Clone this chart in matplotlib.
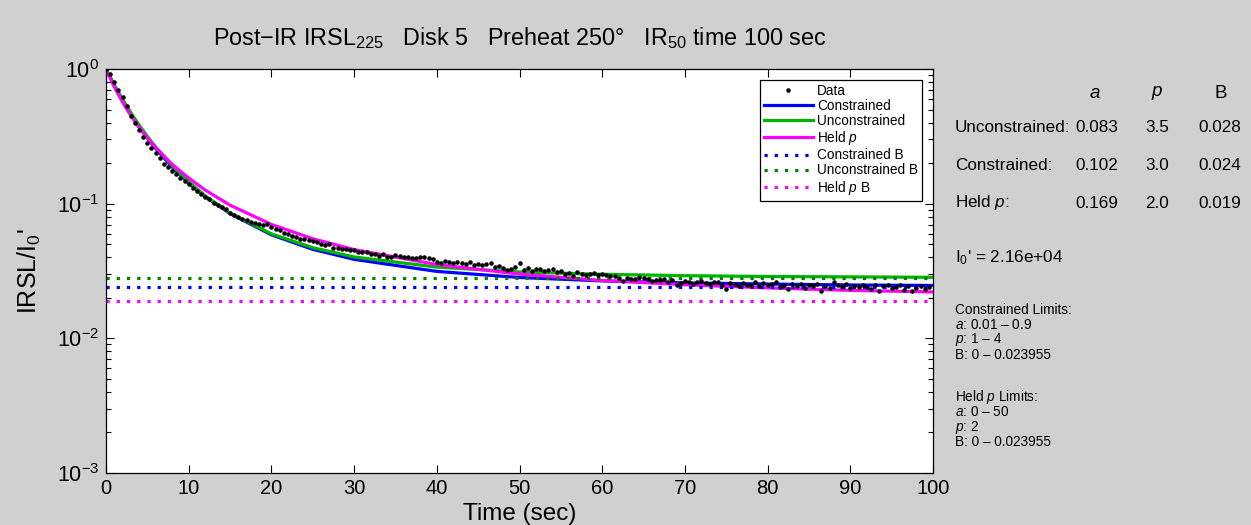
import matplotlib
matplotlib.use('Agg')
import matplotlib.pyplot as plt
import numpy as np

plt.rcParams['font.family'] = ['Liberation Sans', 'DejaVu Sans']
plt.rcParams['mathtext.fontset'] = 'custom'
plt.rcParams['mathtext.rm'] = 'Liberation Sans'
plt.rcParams['mathtext.it'] = 'Liberation Sans:italic'
plt.rcParams['mathtext.bf'] = 'Liberation Sans:bold'

# measured IRSL, normalised, one reading every 0.5 s
data_t = np.arange(0, 100, 0.5)
data_y = [
    1.0, 0.92, 0.80, 0.70, 0.615, 0.53, 0.45, 0.40, 0.355, 0.315,
    0.283, 0.258, 0.236, 0.217, 0.196, 0.188, 0.176, 0.166, 0.156, 0.147,
    0.139, 0.131, 0.124, 0.118, 0.112, 0.108, 0.102, 0.098, 0.094, 0.091,
    0.085, 0.082, 0.079, 0.077, 0.076, 0.073, 0.072, 0.071, 0.070, 0.071,
    0.067, 0.065, 0.064, 0.061, 0.060, 0.058, 0.057, 0.055, 0.055, 0.054,
    0.053, 0.052, 0.050, 0.049, 0.050, 0.047, 0.047, 0.046, 0.046, 0.045,
    0.045, 0.044, 0.044, 0.0436, 0.042, 0.042, 0.0412, 0.0424, 0.0405, 0.040,
    0.0415, 0.0412, 0.040, 0.0405, 0.0398, 0.0396, 0.0402, 0.0399, 0.0396, 0.0385,
    0.0372, 0.0362, 0.0378, 0.037, 0.0365, 0.0372, 0.0361, 0.0357, 0.0368, 0.0352,
    0.0355, 0.0349, 0.0358, 0.0362, 0.0341, 0.0347, 0.0335, 0.0319, 0.033, 0.0338,
    0.0362, 0.0322, 0.0331, 0.0318, 0.0326, 0.0328, 0.0315, 0.0322, 0.0328, 0.0311,
    0.0318, 0.0301, 0.0308, 0.0288, 0.031, 0.0302, 0.0296, 0.030, 0.0305, 0.0294,
    0.030, 0.0297, 0.0288, 0.0292, 0.0279, 0.0268, 0.0281, 0.0276, 0.0275, 0.0284,
    0.0279, 0.0275, 0.0266, 0.0272, 0.0270, 0.0278, 0.0262, 0.0269, 0.0247, 0.0258,
    0.0268, 0.0261, 0.0255, 0.0264, 0.0268, 0.0259, 0.0252, 0.0260, 0.0263, 0.0249,
    0.0233, 0.0256, 0.0254, 0.0246, 0.0259, 0.0247, 0.0251, 0.0262, 0.0244, 0.0257,
    0.0249, 0.0253, 0.026, 0.0241, 0.0247, 0.0233, 0.0252, 0.0244, 0.0254, 0.0238,
    0.0249, 0.0245, 0.0254, 0.0226, 0.0243, 0.0237, 0.026, 0.0248, 0.0241, 0.0254,
    0.0236, 0.0245, 0.0239, 0.0251, 0.0242, 0.0233, 0.0247, 0.0226, 0.0244, 0.0250,
    0.0236, 0.0241, 0.0247, 0.0229, 0.0243, 0.0226, 0.0238, 0.0245, 0.0232, 0.0239,
]

# fitted curves
fit_t = [0, 1, 2, 3, 4, 5, 6, 8, 10, 12, 15, 20, 25, 30, 40, 50, 60, 70, 80, 90, 100]
constrained_y = [1.0, 0.753, 0.583, 0.462, 0.374, 0.307, 0.257, 0.187, 0.142, 0.1127, 0.0843,
                 0.0587, 0.0458, 0.0386, 0.0314, 0.0283, 0.0267, 0.0258, 0.0253, 0.0249, 0.0247]
unconstrained_y = [1.0, 0.763, 0.596, 0.474, 0.384, 0.316, 0.264, 0.1915, 0.1452, 0.1145, 0.0853,
                   0.0597, 0.0471, 0.0402, 0.0338, 0.0311, 0.0299, 0.0292, 0.0288, 0.0286, 0.0284]
heldp_y = [1.0, 0.737, 0.567, 0.451, 0.368, 0.307, 0.261, 0.196, 0.155, 0.126, 0.0975,
           0.0701, 0.0549, 0.0456, 0.0353, 0.0300, 0.0269, 0.0250, 0.0237, 0.0227, 0.0221]

# fit parameters (table on the right)
fit_names = ['Unconstrained:', 'Constrained:', 'Held $p$:']
a_vals = [0.083, 0.102, 0.169]
p_vals = [3.5, 3.0, 2.0]
B_vals = [0.028, 0.024, 0.019]
I0_prime = 2.16e4

blue = '#0000ff'
green = '#00b400'
dkgreen = '#008000'
magenta = '#ff00ff'

fig = plt.figure(figsize=(12.51, 5.25), dpi=100, facecolor='#d0d0d0')
W, H = 1251, 525
ax = fig.add_axes([106 / W, 1 - 473 / H, (933 - 106) / W, (473 - 69) / H])

dot = (0, (1, 2.2))
ax.plot(fit_t, constrained_y, color=blue, lw=2.3, label='Constrained')
ax.plot(fit_t, unconstrained_y, color=green, lw=2.3, label='Unconstrained')
ax.plot(fit_t, heldp_y, color=magenta, lw=2.3, label='Held $p$')
ax.axhline(B_vals[1], color=blue, lw=2.3, ls=dot, dash_capstyle='butt', label='Constrained B')
ax.axhline(B_vals[0], color=dkgreen, lw=2.3, ls=dot, dash_capstyle='butt', label='Unconstrained B')
ax.axhline(B_vals[2], color=magenta, lw=2.3, ls=dot, dash_capstyle='butt', label='Held $p$ B')
ax.plot(data_t, data_y, 'k.', ms=4.5, label='Data', zorder=5)

ax.set_yscale('log')
ax.set_xlim(0, 100)
ax.set_ylim(1e-3, 1)
ax.set_xticks(range(0, 101, 10))
ax.tick_params(which='both', direction='in', top=True, right=True, width=0.8)
ax.tick_params(axis='x', labelsize=14.5, pad=4)
ax.tick_params(axis='y', labelsize=15.5, pad=5)
ax.tick_params(which='major', length=6)
ax.tick_params(which='minor', length=3.5)
for s in ax.spines.values():
    s.set_linewidth(0.9)

ax.set_xlabel('Time (sec)', fontsize=17.5, labelpad=4)
ax.set_ylabel("IRSL/I$_0$'", fontsize=18, labelpad=10)
ax.set_title('Post$-$IR IRSL$_{225}$   Disk 5   Preheat 250°   IR$_{50}$ time 100 sec',
             fontsize=16.8, pad=17)

handles, labels = ax.get_legend_handles_labels()
order = [6, 0, 1, 2, 3, 4, 5]
leg = ax.legend([handles[i] for i in order], [labels[i] for i in order],
                loc='upper right', fontsize=9.8, frameon=True, fancybox=False,
                edgecolor='black', framealpha=1, borderpad=0.3, labelspacing=0.08,
                handlelength=3.6, handletextpad=0.3, borderaxespad=0.8)
leg.get_frame().set_linewidth(0.9)


def px(x, y):
    return x / W, 1 - y / H


# parameter table
fig.text(*px(1095, 93), '$a$', fontsize=13.5, ha='center', va='center')
fig.text(*px(1157, 93), '$p$', fontsize=13.5, ha='center', va='center')
fig.text(*px(1221, 93), 'B', fontsize=13.5, ha='center', va='center')
rows_y = [128, 165, 203]
for name, a, p, b, yy in zip(fit_names, a_vals, p_vals, B_vals, rows_y):
    fig.text(*px(955, yy), name, fontsize=12.3, ha='left', va='center')
    fig.text(*px(1097, yy), '%.3f' % a, fontsize=12.3, ha='center', va='center')
    fig.text(*px(1157, yy), '%.1f' % p, fontsize=12.3, ha='center', va='center')
    fig.text(*px(1220, yy), '%.3f' % b, fontsize=12.3, ha='center', va='center')

fig.text(*px(955, 258), "I$_0$' = %.2e" % I0_prime, fontsize=12.3, ha='left', va='center')

small = ['Constrained Limits:', '$a$: 0.01 – 0.9', '$p$: 1 – 4', 'B: 0 – 0.023955']
for i, s in enumerate(small):
    fig.text(*px(955, 310 + 15 * i), s, fontsize=9.8, ha='left', va='center')
small2 = ['Held $p$ Limits:', '$a$: 0 – 50', '$p$: 2', 'B: 0 – 0.023955']
for i, s in enumerate(small2):
    fig.text(*px(955, 397 + 15 * i), s, fontsize=9.8, ha='left', va='center')

plt.savefig('out.png', dpi=100, facecolor=fig.get_facecolor())
plt.close('all')
